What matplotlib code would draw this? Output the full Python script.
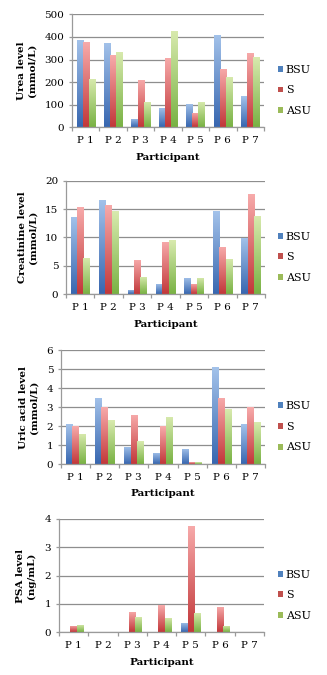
import numpy as np
import matplotlib
matplotlib.use("Agg")
import matplotlib.pyplot as plt
from matplotlib.colors import LinearSegmentedColormap
from matplotlib.patches import Patch

participants = ["P 1", "P 2", "P 3", "P 4", "P 5", "P 6", "P 7"]
series_names = ["BSU", "S", "ASU"]

urea_bsu = [385, 374, 37, 87, 103, 409, 137]
urea_s = [376, 318, 210, 306, 62, 260, 329]
urea_asu = [215, 334, 113, 426, 112, 224, 309]

creat_bsu = [13.6, 16.6, 0.8, 1.8, 2.9, 14.6, 9.9]
creat_s = [15.3, 15.7, 6.1, 9.2, 1.8, 8.4, 17.6]
creat_asu = [6.4, 14.6, 3.1, 9.5, 2.9, 6.3, 13.8]

uric_bsu = [2.1, 3.5, 0.9, 0.6, 0.8, 5.1, 2.1]
uric_s = [2.0, 3.0, 2.6, 2.0, 0.1, 3.5, 3.0]
uric_asu = [1.6, 2.3, 1.2, 2.5, 0.1, 2.9, 2.2]

psa_bsu = [0, 0, 0, 0, 0.32, 0, 0]
psa_s = [0.22, 0, 0.72, 0.95, 3.75, 0.89, 0]
psa_asu = [0.25, 0, 0.54, 0.5, 0.68, 0.22, 0]

ylabels = ["Urea level\n(mmol/L)", "Creatinine level\n(mmol/L)",
           "Uric acid level\n(mmol/L)", "PSA level\n(ng/mL)"]
yticks_list = [[0, 100, 200, 300, 400, 500], [0, 5, 10, 15, 20],
               [0, 1, 2, 3, 4, 5, 6], [0, 1, 2, 3, 4]]
xlabel = "Participant"

panels = [
    (urea_bsu, urea_s, urea_asu),
    (creat_bsu, creat_s, creat_asu),
    (uric_bsu, uric_s, uric_asu),
    (psa_bsu, psa_s, psa_asu),
]

# layout in pixels: (left, right, top, bottom), ylabel x centre
W, H = 327, 675
boxes = [(72, 264, 14.3, 127.3), (66, 265, 180.7, 294.3),
         (61, 265, 350.3, 464.0), (59, 264, 519.0, 632.3)]
ylab_x = [27, 28, 29, 26]

legend_colors = ["#4F81BD", "#C0504D", "#9BBB59"]
grad = {
    "BSU": ("#3867B0", "#A3C2EA"),
    "S": ("#C2383A", "#F7AAAA"),
    "ASU": ("#79B244", "#D8EAAE"),
}

serif = ["DejaVu Serif"]
plt.rcParams["font.family"] = serif

fig = plt.figure(figsize=(W / 100, H / 100), dpi=100)
fig.patch.set_facecolor("white")

x = np.arange(len(participants))
bw = 0.222
offsets = [-bw, 0, bw]
gvec = np.linspace(0, 1, 64).reshape(-1, 1)

for i, (vals, box) in enumerate(zip(panels, boxes)):
    l, r, t, b = box
    ax = fig.add_axes([l / W, 1 - b / H, (r - l) / W, (b - t) / H])
    ymax = yticks_list[i][-1]
    for name, v, off in zip(series_names, vals, offsets):
        cmap = LinearSegmentedColormap.from_list(name, list(grad[name]))
        bars = ax.bar(x + off, v, width=bw, color="none", edgecolor="none", zorder=2)
        for rect in bars:
            h = rect.get_height()
            if h <= 0:
                continue
            x0 = rect.get_x()
            im = ax.imshow(gvec, extent=[x0, x0 + rect.get_width(), 0, h],
                           origin="lower", aspect="auto", cmap=cmap,
                           interpolation="bilinear", zorder=2)
            im.set_clip_path(rect)
    ax.set_xlim(-0.5, len(participants) - 0.5)
    ax.set_ylim(0, ymax)
    ax.set_aspect("auto")
    ax.set_yticks(yticks_list[i])
    ax.yaxis.grid(True, color="#8E8E8E", linewidth=0.9)
    ax.set_axisbelow(True)
    for s in ["top", "right"]:
        ax.spines[s].set_visible(False)
    for s in ["left", "bottom"]:
        ax.spines[s].set_color("#9A9A9A")
        ax.spines[s].set_linewidth(0.9)
    ax.set_xticks(np.arange(-0.5, len(participants), 1.0))
    ax.set_xticklabels([])
    ax.set_xticks(x, minor=True)
    ax.set_xticklabels(participants, minor=True, fontsize=7.5)
    ax.tick_params(axis="x", which="major", direction="out", length=3,
                   color="#9A9A9A", width=0.9)
    ax.tick_params(axis="x", which="minor", length=0, pad=6.5)
    ax.tick_params(axis="y", direction="out", length=2.5, color="#9A9A9A",
                   width=0.9, labelsize=7.5, pad=3)
    ax.text(0.5, -30 / (b - t), xlabel, transform=ax.transAxes, ha="center",
            va="center", fontsize=7.5, fontweight="bold")
    fig.text(ylab_x[i] / W, 1 - (t + b) / 2 / H, ylabels[i], rotation=90,
             ha="center", va="center", fontsize=7.5, fontweight="bold",
             linespacing=1.15, multialignment="center")
    handles = [Patch(facecolor=c, edgecolor="none") for c in legend_colors]
    s_y = b - 0.326 * (b - t)
    fig.legend(handles, series_names, loc="center left",
               bbox_to_anchor=(278 / W, 1 - s_y / H),
               bbox_transform=fig.transFigure, frameon=False, fontsize=8,
               handlelength=0.45, handleheight=0.45, handletextpad=0.25,
               labelspacing=0.95, borderpad=0, borderaxespad=0)

fig.savefig("out.png", dpi=100, facecolor="white")
